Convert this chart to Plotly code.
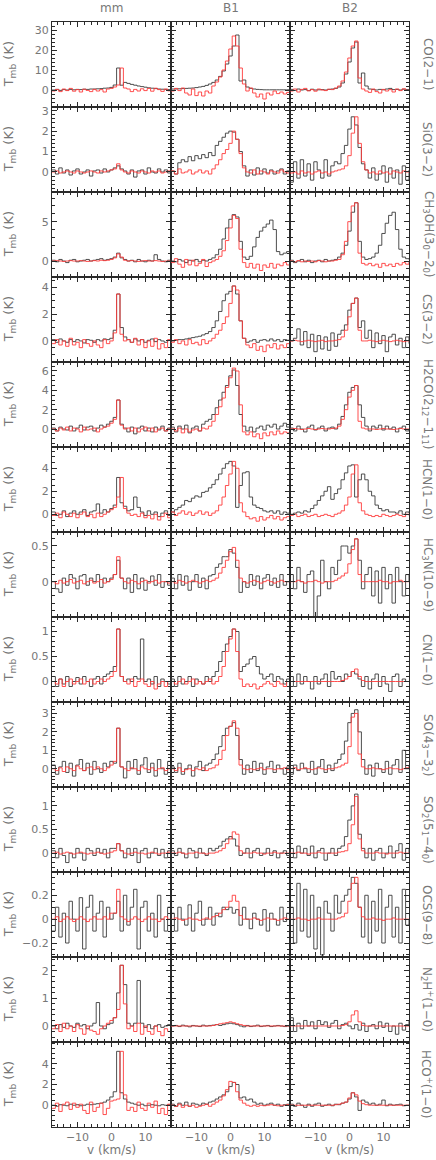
import plotly.graph_objects as go
from plotly.subplots import make_subplots

# channel left edges (km/s), 1 km/s channels
VEL = [-17.5, -16.5, -15.5, -14.5, -13.5, -12.5, -11.5, -10.5, -9.5, -8.5, -7.5, -6.5,
       -5.5, -4.5, -3.5, -2.5, -1.5, -0.5, 0.5, 1.5, 2.5, 3.5, 4.5, 5.5,
       6.5, 7.5, 8.5, 9.5, 10.5, 11.5, 12.5, 13.5, 14.5, 15.5, 16.5, 17.5]

COLUMNS = ["mm", "B1", "B2"]

# ---- CO(2-1)
CO_MM_K = [0.0, 0.3, -0.2, 0.2, 0.0, 0.3, 0.1, 0.3, 0.2, 0.4, 0.3, 0.5,
           0.5, 0.6, 0.7, 0.9, 1.0, 1.3, 2.5, 11.0, 2.4, 3.8, 3.3, 2.8,
           2.4, 2.0, 1.7, 1.4, 1.1, 0.9, 0.7, 0.5, 0.4, 0.3, 0.2, 0.2]
CO_MM_R = [-0.5, 0.3, -0.8, 0.5, -0.3, 0.8, -0.6, 0.2, -1.0, 0.4, -0.2, -0.8,
           0.3, -0.5, 0.2, -1.0, 0.5, 0.8, 1.5, 2.5, 11.0, 1.0, 0.5, -0.8,
           0.3, -0.5, 0.6, -0.3, 0.8, -0.6, 0.9, 0.2, -0.7, 0.5, -0.4, 0.1]
CO_B1_K = [0.5, 0.5, 0.6, 0.7, 0.8, 0.9, 1.0, 1.2, 1.5, 1.8, 2.3, 3.0,
           3.8, 5.0, 6.8, 9.5, 13.0, 17.0, 22.0, 27.5, 4.5, 5.0, 1.5, 0.8,
           0.5, 0.3, 0.2, 0.1, 0.1, 0.1, 0.1, 0.1, 0.1, 0.1, 0.1, 0.1]
CO_B1_R = [-0.5, 0.8, -0.3, 1.0, -1.5, -2.5, 0.5, -2.8, -1.0, -3.0, -0.5, -1.5,
           2.0, 4.0, 6.5, 10.0, 14.5, 20.5, 27.0, 22.0, 11.0, 3.0, -0.5, 1.0,
           -1.5, -3.5, -2.0, -4.5, -1.5, -2.5, -0.5, -1.8, -1.0, -2.0, -1.2, -1.0]
CO_B2_K = [0.3, -0.2, 0.5, 0.0, 0.2, -0.3, 0.4, 0.0, 0.1, 0.2, 0.0, 0.3,
           0.5, 0.8, 1.5, 3.5, 8.0, 14.0, 21.0, 24.0, 3.5, 8.5, 2.0, 0.5,
           0.2, 0.0, 0.3, 0.1, 0.5, 0.8, 0.2, 0.3, 0.0, 0.4, 0.2, 0.0]
CO_B2_R = [-0.5, 0.5, -1.0, 0.3, 0.8, -0.4, 0.2, -0.6, 0.5, 0.0, -0.3, 0.4,
           0.2, 1.0, 2.0, 4.5, 9.0, 16.0, 22.0, 24.5, 6.0, 0.5, -0.5, -1.2,
           0.5, -0.8, -1.5, 0.3, -0.5, 0.2, -1.0, 0.5, -0.3, 0.6, -0.2, 0.3]

# ---- SiO(3-2)
SIO_MM_K = [0.1, -0.1, 0.2, -0.05, 0.1, -0.15, 0.05, 0.15, -0.1, 0.0, 0.1, -0.2,
            0.05, 0.1, -0.05, 0.15, 0.0, 0.1, 0.2, 0.3, 0.15, 0.05, -0.1, 0.1,
            -0.25, 0.05, 0.1, -0.1, 0.2, 0.0, -0.05, 0.15, 0.0, 0.1, -0.05, 0.05]
SIO_MM_R = [0.0, 0.05, -0.05, 0.0, 0.05, 0.0, -0.05, 0.05, 0.0, -0.05, 0.0, 0.05,
            0.0, -0.05, 0.05, 0.0, 0.05, 0.1, 0.15, 0.4, 0.1, 0.0, -0.05, 0.05,
            0.0, -0.05, 0.05, 0.0, -0.05, 0.05, 0.0, 0.05, -0.05, 0.0, 0.05, 0.0]
SIO_B1_K = [0.05, -0.1, 0.45, 0.6, 0.5, 0.75, 0.55, 0.8, 0.65, 0.85, 0.7, 0.95,
            0.8, 1.3, 1.5, 1.7, 1.9, 2.0, 1.95, 1.6, 1.0, 0.3, -0.2, 0.1,
            -0.15, 0.2, -0.1, 0.15, -0.05, 0.1, -0.1, 0.05, 0.15, -0.1, 0.05, 0.0]
SIO_B1_R = [0.05, -0.1, 0.15, -0.05, 0.0, 0.1, -0.1, 0.0, 0.1, -0.05, 0.05, -0.1,
            0.15, 0.35, 0.6, 0.9, 1.1, 1.4, 2.0, 1.6, 0.9, 0.2, 0.0, -0.05,
            0.1, -0.1, 0.05, 0.0, -0.1, 0.05, 0.0, -0.05, 0.1, 0.0, -0.05, 0.0]
SIO_B2_K = [-0.5, 0.5, -0.3, 0.6, -0.2, 0.4, -0.4, 0.5, 0.1, -0.3, 0.6, -0.2,
            0.3, 0.5, 0.4, 0.9, 1.3, 2.1, 2.7, 2.3, 1.2, 0.4, 0.1, -0.3,
            0.2, -0.4, -0.1, 0.3, -0.5, 0.2, -0.3, 0.1, -0.6, 0.3, -0.4, 0.1]
SIO_B2_R = [-0.05, 0.0, -0.1, 0.05, -0.05, 0.0, -0.1, 0.0, 0.05, -0.05, 0.0, -0.1,
            0.0, 0.05, 0.1, 0.15, 0.3, 0.8, 1.9, 2.7, 1.4, 0.5, 0.1, -0.05,
            0.0, -0.1, 0.05, -0.05, 0.0, -0.1, 0.05, 0.0, -0.05, 0.05, 0.0, 0.0]

# ---- CH3OH(3_0-2_0)
CH3OH_MM_K = [0.1, -0.1, 0.2, 0.0, -0.2, 0.1, 0.2, -0.1, 0.0, 0.1, 0.2, 0.0,
              0.1, 0.2, 0.3, 0.1, 0.2, 0.3, 0.5, 1.0, 0.4, 0.2, 0.0, 0.1,
              -0.1, 0.2, 0.0, -0.1, 0.1, 0.0, 0.8, 0.2, 0.0, -0.1, 0.1, 0.0]
CH3OH_MM_R = [0.0, 0.05, 0.0, -0.05, 0.0, 0.05, 0.0, 0.0, 0.05, 0.0, -0.05, 0.0,
              0.05, 0.0, 0.1, 0.05, 0.1, 0.2, 0.4, 0.9, 0.5, 0.1, 0.0, 0.05,
              0.0, -0.05, 0.0, 0.05, 0.0, 0.0, 0.05, 0.0, -0.05, 0.0, 0.0, 0.0]
CH3OH_B1_K = [0.0, -0.1, 0.2, 0.0, -0.2, 0.1, 0.0, 0.2, -0.1, 0.1, 0.0, 0.2,
              0.4, 0.8, 1.5, 2.8, 4.2, 5.3, 5.9, 5.6, 2.5, 0.5, 0.2, 0.6,
              1.8, 3.0, 3.8, 4.3, 4.7, 5.2, 4.0, 1.2, 0.8, 1.0, 1.2, 1.2]
CH3OH_B1_R = [-0.2, 0.3, -0.4, -0.8, 0.2, -0.5, 0.1, -0.6, -0.3, 0.2, -0.7, -0.2,
              0.0, 0.2, 0.6, 1.3, 2.6, 4.2, 5.8, 5.4, 1.5, -0.2, -0.8, -0.3,
              -0.9, -0.4, -1.2, -0.5, -0.8, -0.3, -0.9, -0.4, -0.6, -0.2, -0.5, -0.3]
CH3OH_B2_K = [0.1, -0.2, 0.0, 0.2, -0.1, 0.1, -0.2, 0.0, 0.1, -0.1, 0.2, 0.0,
              0.1, 0.2, 0.5, 1.0, 2.0, 3.8, 6.2, 7.4, 2.5, 0.5, 0.2, 0.3,
              0.5, 1.0, 2.0, 3.5, 4.8, 5.8, 6.2, 4.0, 1.5, 0.5, 0.3, 0.2]
CH3OH_B2_R = [0.0, -0.1, 0.05, -0.1, 0.0, -0.05, 0.0, -0.1, 0.05, 0.0, -0.1, 0.0,
              0.0, 0.1, 0.2, 0.8, 2.5, 5.0, 7.0, 7.4, 1.0, -0.3, -0.5, -0.3,
              -0.6, -0.4, -0.8, -0.3, -0.6, -0.4, -0.7, -0.3, -0.5, -0.2, -0.4, -0.1]

# ---- CS(3-2)
CS_MM_K = [0.1, -0.1, 0.15, 0.0, -0.1, 0.1, -0.05, 0.1, 0.0, -0.15, 0.1, 0.05,
           -0.1, 0.1, 0.0, 0.15, 0.1, 0.2, 0.8, 3.5, 1.0, 0.3, 0.1, -0.1,
           0.15, 0.0, 0.1, -0.1, 0.05, 0.15, -0.05, 0.1, 0.0, -0.1, 0.05, 0.0]
CS_MM_R = [-0.2, 0.1, -0.3, 0.0, -0.4, 0.2, -0.3, -0.1, -0.5, 0.1, -0.2, -0.4,
           0.0, -0.3, -0.5, 0.1, -0.2, 0.0, 0.6, 3.5, 0.5, 0.0, 0.1, -0.1,
           0.2, -0.3, 0.1, -0.5, 0.0, -0.4, 0.2, -0.6, -0.2, -0.5, 0.1, -0.3]
CS_B1_K = [0.0, 0.05, 0.1, 0.1, 0.15, 0.2, 0.25, 0.3, 0.35, 0.45, 0.55, 0.7,
           1.0, 1.5, 2.2, 3.0, 3.5, 3.7, 4.1, 3.5, 1.5, 0.2, -0.1, 0.0,
           0.1, -0.1, 0.05, 0.1, 0.0, 0.15, 0.0, 0.1, -0.05, 0.1, 0.05, 0.0]
CS_B1_R = [-0.1, 0.1, -0.2, 0.0, -0.3, 0.1, -0.2, -0.1, -0.3, 0.1, -0.2, 0.0,
           0.2, 0.5, 0.8, 1.3, 1.8, 2.8, 4.1, 3.8, 1.5, 0.2, -0.3, -0.5,
           -0.2, -0.7, -0.4, -0.8, -0.3, -0.5, -0.2, -0.6, -0.3, -0.5, -0.2, -0.4]
CS_B2_K = [0.0, 0.2, 0.9, -0.3, 0.7, -0.5, 0.5, -0.8, 0.4, -0.6, 0.3, -0.7,
           0.6, -0.4, 0.5, 0.8, 1.2, 2.3, 2.8, 3.2, 1.0, 1.5, 0.2, 0.8,
           -0.5, 0.6, -0.2, 0.4, -0.8, 0.3, 0.5, -0.3, 0.2, -0.5, 0.3, -0.2]
CS_B2_R = [0.0, 0.05, 0.0, -0.05, 0.0, 0.05, 0.0, -0.05, 0.0, 0.05, -0.05, 0.0,
           0.0, 0.05, 0.1, 0.3, 0.8, 1.8, 2.8, 3.2, 0.8, 0.0, 0.0, 0.05,
           0.0, -0.05, 0.0, 0.05, 0.0, -0.05, 0.0, 0.05, 0.0, -0.05, 0.0, 0.0]

# ---- H2CO(2_12-1_11)
H2CO_MM_K = [0.1, -0.2, 0.2, 0.0, -0.1, 0.3, -0.2, 0.1, 0.4, -0.1, 0.2, 0.3,
             -0.2, 0.1, 0.4, 0.2, 0.5, 0.8, 1.2, 3.0, 0.5, 0.1, -0.3, 0.2,
             -0.5, 0.1, 0.3, -0.2, 0.1, -0.3, 0.2, -0.1, 0.3, -0.2, 0.1, 0.0]
H2CO_MM_R = [0.0, -0.2, 0.1, -0.1, 0.2, -0.2, 0.1, 0.0, -0.3, 0.2, -0.1, 0.0,
             0.1, -0.3, 0.0, 0.2, 0.3, 0.6, 1.0, 3.0, 0.4, 0.0, 0.1, -0.2,
             0.1, -0.3, 0.0, 0.2, -0.2, 0.1, -0.3, 0.0, 0.1, -0.2, 0.0, 0.0]
H2CO_B1_K = [0.2, -0.3, 0.3, 0.0, 0.4, -0.4, 0.1, 0.3, -0.2, 0.5, 0.8, 1.0,
             1.5, 2.2, 3.0, 3.8, 4.5, 5.5, 6.1, 4.5, 1.5, 0.3, -0.2, 0.2,
             -0.3, 0.1, 0.3, -0.1, 0.4, 0.2, 0.5, 0.0, 0.3, 0.6, 0.2, 0.1]
H2CO_B1_R = [0.0, -0.2, 0.1, -0.4, 0.0, -0.3, -0.1, 0.0, -0.2, 0.1, 0.0, 0.3,
             0.8, 1.5, 2.3, 3.2, 4.3, 5.3, 6.3, 6.0, 2.5, -0.3, -0.6, -0.3,
             -0.8, -0.5, -1.0, -0.4, -0.7, -0.3, -0.6, -0.2, -0.5, -0.3, -0.4, -0.2]
H2CO_B2_K = [0.1, -0.2, 0.3, 0.0, -0.3, 0.2, 0.4, -0.1, 0.1, 0.3, -0.2, 0.1,
             0.2, 0.0, 0.5, 1.3, 2.5, 3.8, 4.3, 4.5, 2.5, 1.2, 0.3, -0.2,
             0.3, 0.1, 0.4, -0.1, 0.3, 0.0, 0.2, -0.3, 0.1, 0.3, -0.2, -0.1]
H2CO_B2_R = [0.0, 0.05, 0.0, -0.05, 0.0, 0.05, 0.0, -0.05, 0.0, 0.05, 0.0, 0.0,
             0.05, 0.1, 0.3, 1.0, 2.0, 3.3, 4.0, 4.5, 0.8, 0.1, 0.0, 0.0,
             0.0, -0.05, 0.0, 0.05, 0.0, 0.0, -0.05, 0.0, 0.05, 0.0, 0.0, 0.0]

# ---- HCN(1-0)
HCN_MM_K = [0.2, -0.1, 0.0, 0.3, -0.2, 0.1, 0.3, 0.0, 0.2, 0.4, -0.1, 0.2,
            0.3, 0.9, 0.1, 0.4, 0.2, 0.5, 0.8, 3.2, 1.0, 0.7, 0.3, 0.4,
            1.5, 0.6, 0.2, -0.1, 0.3, 0.0, 0.2, -0.2, 0.1, 0.3, -0.1, 0.2]
HCN_MM_R = [-0.1, 0.1, -0.3, 0.2, 0.0, -0.2, 0.1, -0.3, 0.0, 0.2, -0.2, 0.0,
            -0.3, 0.1, -0.2, 0.0, 0.2, 0.4, 0.6, 1.5, 3.2, 0.5, 0.1, -0.1,
            0.0, -0.2, 0.1, -0.3, -0.1, -0.4, 0.0, -0.5, -0.2, 0.1, -0.3, 0.0]
HCN_B1_K = [0.2, 0.4, 0.6, 0.8, 1.2, 1.1, 1.4, 1.6, 1.5, 1.9, 2.0, 2.3,
            2.6, 3.0, 3.5, 4.0, 4.4, 4.6, 4.2, 0.6, 2.5, 3.6, 3.7, 1.5,
            0.8, 0.6, 0.5, 0.3, 0.2, 0.3, 0.1, 0.3, 0.0, 0.2, 0.1, 0.1]
HCN_B1_R = [0.2, -0.1, 0.1, 0.3, 0.0, 0.2, -0.1, 0.1, 0.3, 0.0, 0.2, -0.1,
            0.1, 0.3, 0.8, 1.5, 2.5, 3.5, 4.6, 4.0, 1.0, 0.2, -0.2, -0.4,
            -0.3, -0.6, -0.2, -0.5, -0.3, -0.1, -0.4, -0.2, -0.5, -0.3, -0.2, -0.1]
HCN_B2_K = [0.0, 0.1, 0.2, 0.1, 0.3, 0.2, 0.5, 0.8, 1.2, 1.6, 2.0, 2.4,
            1.3, 1.8, 2.2, 3.0, 3.6, 4.2, 4.3, 1.5, 3.0, 3.5, 3.0, 2.0,
            1.6, 0.8, 0.5, 0.3, 0.4, 0.2, 0.2, 0.1, 0.3, 0.0, 0.2, 0.1]
HCN_B2_R = [-0.1, 0.0, -0.2, -0.1, 0.0, -0.2, -0.1, 0.0, -0.2, -0.1, 0.0, -0.1,
            -0.2, 0.0, 0.1, 0.3, 0.8, 1.5, 3.5, 4.3, 1.0, 0.3, 0.0, -0.1,
            -0.2, -0.1, -0.2, 0.0, -0.1, -0.2, -0.1, 0.0, -0.1, -0.2, 0.0, -0.1]

# ---- HC3N(10-9)
HC3N_MM_K = [0.0, -0.1, -0.15, 0.05, -0.05, 0.1, 0.05, -0.1, 0.08, 0.1, -0.05, 0.05,
             0.0, 0.1, -0.08, 0.05, 0.0, 0.05, 0.1, 0.3, 0.05, -0.1, 0.05, -0.15,
             0.1, -0.1, 0.05, -0.12, 0.0, 0.08, -0.05, 0.1, -0.08, 0.0, -0.05, 0.05]
HC3N_MM_R = [0.0, -0.03, 0.02, -0.02, 0.0, 0.03, -0.02, 0.0, 0.02, -0.03, 0.0, 0.02,
             -0.02, 0.0, 0.03, -0.02, 0.0, 0.03, 0.1, 0.35, 0.05, 0.0, -0.02, 0.02,
             0.0, -0.03, 0.0, 0.02, -0.02, 0.0, 0.02, -0.02, 0.0, 0.0, -0.02, 0.0]
HC3N_B1_K = [0.05, -0.1, 0.1, -0.05, 0.08, -0.12, 0.0, 0.1, -0.08, 0.05, -0.1, 0.08,
             0.1, 0.2, 0.25, 0.35, 0.35, 0.45, 0.4, 0.2, -0.15, 0.0, -0.08, 0.1,
             -0.05, 0.08, -0.1, 0.05, 0.1, -0.05, 0.05, -0.08, 0.1, -0.05, 0.0, 0.05]
HC3N_B1_R = [0.0, -0.02, 0.02, 0.0, -0.02, 0.0, 0.02, 0.0, -0.02, 0.0, 0.02, 0.0,
             0.02, 0.05, 0.12, 0.2, 0.3, 0.42, 0.48, 0.3, 0.05, 0.0, -0.02, 0.0,
             0.02, 0.0, -0.02, 0.0, 0.02, 0.0, -0.02, 0.0, 0.02, 0.0, 0.0, 0.0]
HC3N_B2_K = [0.1, -0.1, 0.2, 0.0, -0.15, 0.1, 0.15, -0.5, -0.2, 0.3, 0.0, -0.1,
             0.2, 0.1, 0.3, 0.5, 0.5, 0.4, 0.5, 0.6, 0.3, -0.1, 0.1, 0.2,
             -0.2, 0.15, -0.3, 0.2, -0.1, 0.1, -0.3, 0.2, 0.0, -0.2, 0.1, 0.0]
HC3N_B2_R = [0.0, 0.0, 0.02, 0.0, -0.02, 0.0, 0.0, 0.02, 0.0, -0.02, 0.0, 0.0,
             0.0, 0.02, 0.05, 0.08, 0.12, 0.25, 0.45, 0.6, 0.1, 0.0, 0.0, 0.0,
             0.0, 0.0, 0.02, 0.0, 0.0, -0.02, 0.0, 0.0, 0.02, 0.0, 0.0, 0.0]

# ---- CN(1-0)
CN_MM_K = [0.1, -0.1, 0.05, -0.05, 0.1, -0.1, 0.0, 0.08, -0.05, 0.1, 0.0, -0.1,
           0.05, 0.1, -0.05, 0.1, 0.15, 0.2, 0.3, 1.05, 0.1, 0.0, 0.05, 0.0,
           0.1, 0.05, 0.85, 0.0, 0.05, -0.05, 0.1, -0.1, 0.05, 0.0, -0.05, 0.05]
CN_MM_R = [0.0, -0.05, 0.05, -0.1, 0.0, 0.05, -0.05, 0.0, 0.05, -0.05, 0.0, 0.05,
           -0.05, 0.0, 0.05, 0.0, 0.05, 0.1, 0.2, 1.05, 0.1, 0.0, -0.05, 0.05,
           -0.1, 0.0, 0.05, -0.05, -0.1, 0.0, -0.15, -0.05, 0.0, -0.1, 0.0, -0.05]
CN_B1_K = [0.05, -0.1, 0.1, -0.05, 0.0, 0.1, -0.1, 0.05, 0.0, -0.05, 0.1, 0.0,
           0.1, 0.2, 0.4, 0.6, 0.75, 0.9, 1.05, 1.0, 0.2, 0.3, 0.35, 0.45,
           0.5, 0.3, 0.15, 0.05, 0.1, 0.15, 0.0, 0.1, 0.05, -0.05, 0.05, 0.0]
CN_B1_R = [0.0, -0.05, 0.0, 0.05, -0.05, 0.0, 0.05, -0.05, 0.0, -0.05, 0.0, 0.05,
           -0.05, 0.0, 0.1, 0.3, 0.6, 0.85, 1.05, 0.6, 0.05, -0.1, -0.05, -0.1,
           -0.05, -0.15, -0.1, -0.05, 0.0, -0.05, -0.1, 0.0, -0.05, -0.1, 0.0, -0.05]
CN_B2_K = [0.1, -0.1, 0.15, -0.05, 0.1, 0.0, -0.15, 0.1, -0.05, 0.05, 0.15, -0.1,
           0.2, 0.05, 0.1, 0.0, 0.15, 0.1, 0.2, 0.15, 0.05, -0.1, 0.1, -0.15,
           0.05, 0.15, -0.1, 0.1, -0.05, -0.2, 0.1, 0.15, -0.1, 0.05, 0.0, 0.0]
CN_B2_R = [0.0, 0.0, 0.0, 0.0, 0.0, 0.0, 0.0, 0.0, 0.0, 0.0, 0.0, 0.0,
           0.0, 0.0, 0.0, 0.02, 0.05, 0.1, 0.2, 0.25, 0.1, 0.02, 0.0, 0.0,
           0.0, 0.0, 0.0, 0.0, 0.0, 0.0, 0.0, 0.0, 0.0, 0.0, 0.0, 0.0]

# ---- SO(4_3-3_2)
SO_MM_K = [0.2, -0.3, 0.1, 0.4, -0.2, 0.3, -0.4, 0.2, 0.5, -0.1, 0.3, -0.3,
           0.4, 0.0, -0.2, 0.3, 0.1, 0.4, 0.3, 2.2, 0.1, -0.5, 0.4, 0.0,
           0.5, -0.3, 0.2, 0.6, -0.2, 0.3, -0.4, 0.5, 0.0, -0.3, 0.4, 0.1]
SO_MM_R = [0.0, -0.1, 0.05, -0.15, 0.1, 0.0, -0.1, 0.15, 0.0, -0.1, 0.05, 0.1,
           -0.05, 0.1, 0.0, -0.1, 0.05, 0.2, 0.4, 2.2, 0.1, 0.0, -0.1, 0.05,
           0.0, -0.1, 0.1, 0.0, -0.05, 0.05, -0.1, 0.0, 0.05, -0.1, 0.0, 0.0]
SO_B1_K = [0.1, -0.2, 0.3, -0.3, 0.0, 0.2, -0.4, 0.1, 0.4, -0.1, 0.2, 0.3,
           0.5, 0.8, 1.2, 1.8, 2.2, 2.3, 2.5, 1.8, 0.5, -0.3, 0.2, -0.2,
           0.4, -0.1, 0.3, -0.3, 0.1, 0.4, -0.2, 0.2, 0.0, -0.3, 0.1, 0.2]
SO_B1_R = [0.0, -0.1, 0.05, -0.15, -0.05, 0.0, -0.1, 0.0, -0.05, 0.05, -0.1, 0.0,
           0.05, 0.2, 0.5, 1.0, 1.8, 2.3, 2.6, 2.2, 0.2, 0.0, -0.05, 0.0,
           -0.05, 0.0, 0.05, -0.05, 0.0, 0.0, -0.05, 0.0, 0.0, 0.05, -0.05, 0.0]
SO_B2_K = [-0.3, 0.2, -0.1, 0.3, 0.0, -0.2, 0.4, -0.3, 0.1, 0.5, -0.2, 0.2,
           -0.1, 0.3, 0.5, 0.8, 1.5, 2.5, 3.0, 3.2, 2.0, 0.5, -0.3, 0.2,
           -0.4, 0.3, 0.0, -0.2, 0.4, -0.3, 0.2, 0.5, -0.2, 1.0, 0.0, 0.2]
SO_B2_R = [0.0, 0.05, -0.05, 0.0, 0.05, 0.0, -0.05, 0.0, 0.05, 0.0, -0.05, 0.0,
           0.0, 0.05, 0.1, 0.2, 0.3, 1.2, 2.8, 3.0, 0.8, 0.1, 0.0, 0.0,
           0.05, 0.0, 0.0, -0.05, 0.0, 0.05, 0.0, 0.0, -0.05, 0.0, 0.05, 0.0]

# ---- SO2(5_1-4_0)
SO2_MM_K = [0.05, -0.1, 0.1, -0.05, -0.2, 0.0, -0.1, 0.1, 0.0, -0.15, 0.1, 0.05,
            -0.05, 0.1, 0.0, 0.08, -0.1, 0.1, 0.1, 0.2, 0.05, -0.1, 0.1, -0.05,
            0.1, -0.2, 0.05, 0.1, -0.1, 0.0, 0.1, -0.05, 0.08, -0.1, 0.05, 0.0]
SO2_MM_R = [0.0, 0.02, -0.02, 0.0, 0.02, 0.0, -0.02, 0.0, 0.02, 0.0, -0.02, 0.0,
            0.0, 0.02, 0.0, -0.02, 0.0, 0.02, 0.05, 0.2, 0.05, 0.0, -0.02, 0.0,
            0.02, 0.0, 0.0, -0.02, 0.0, 0.02, 0.0, -0.02, 0.0, 0.0, 0.02, 0.0]
SO2_B1_K = [0.05, -0.05, 0.1, 0.0, -0.1, 0.1, 0.05, -0.1, 0.1, 0.0, -0.05, 0.1,
            0.05, 0.1, 0.15, 0.25, 0.3, 0.35, 0.3, 0.15, -0.05, 0.0, 0.1, -0.1,
            0.05, 0.1, -0.05, 0.0, 0.1, -0.05, 0.05, -0.1, 0.0, 0.05, -0.05, 0.0]
SO2_B1_R = [0.0, 0.0, 0.02, 0.0, -0.02, 0.0, 0.0, 0.02, 0.0, 0.0, -0.02, 0.0,
            0.0, 0.02, 0.05, 0.1, 0.2, 0.3, 0.45, 0.4, 0.05, 0.0, 0.0, 0.0,
            0.02, 0.0, 0.0, -0.02, 0.0, 0.0, 0.02, 0.0, 0.0, 0.0, 0.0, 0.0]
SO2_B2_K = [0.1, -0.1, 0.15, 0.0, 0.1, -0.05, 0.15, -0.1, 0.05, 0.1, -0.15, 0.0,
            0.1, -0.05, 0.1, 0.15, 0.35, 0.7, 1.0, 1.25, 0.4, 0.1, -0.1, 0.1,
            -0.15, 0.05, 0.1, -0.1, 0.0, 0.15, -0.1, 0.05, 0.2, -0.15, 0.1, 0.0]
SO2_B2_R = [0.0, 0.0, 0.02, 0.0, 0.0, -0.02, 0.0, 0.0, 0.02, 0.0, 0.0, 0.0,
            0.0, 0.0, 0.02, 0.03, 0.05, 0.2, 0.6, 1.2, 0.3, 0.05, 0.0, 0.0,
            0.0, 0.02, 0.0, 0.0, -0.02, 0.0, 0.0, 0.0, 0.02, 0.0, 0.0, 0.0]

# ---- OCS(9-8)
OCS_MM_K = [-0.1, 0.1, -0.15, 0.05, -0.2, 0.15, 0.0, -0.1, 0.18, -0.25, 0.1, 0.2,
            -0.1, 0.05, 0.15, -0.15, 0.1, 0.0, 0.05, 0.15, -0.1, 0.2, -0.05, 0.1,
            0.25, -0.25, 0.1, 0.15, -0.1, 0.05, -0.15, 0.2, 0.0, -0.1, 0.1, -0.05]
OCS_MM_R = [0.0, 0.02, -0.02, 0.0, 0.02, 0.0, -0.02, 0.0, 0.02, 0.0, -0.02, 0.0,
            0.02, 0.0, 0.0, 0.02, 0.0, 0.05, 0.05, 0.25, 0.02, 0.0, -0.02, 0.0,
            0.02, 0.0, -0.02, 0.0, 0.02, 0.0, 0.0, -0.02, 0.0, 0.02, 0.0, 0.0]
OCS_B1_K = [0.05, -0.1, 0.1, 0.0, -0.05, 0.12, -0.1, 0.05, 0.15, -0.05, 0.0, 0.1,
            -0.05, 0.05, 0.02, 0.1, 0.08, 0.1, 0.05, 0.08, -0.05, 0.1, 0.0, -0.08,
            0.05, 0.0, -0.05, 0.08, -0.1, 0.05, 0.0, -0.05, 0.1, -0.02, 0.05, 0.0]
OCS_B1_R = [0.0, 0.01, 0.0, -0.01, 0.0, 0.01, 0.0, 0.0, -0.01, 0.0, 0.01, 0.0,
            0.02, 0.03, 0.05, 0.08, 0.1, 0.15, 0.2, 0.15, 0.03, 0.0, 0.0, 0.0,
            0.01, 0.0, -0.01, 0.0, 0.01, 0.0, 0.0, -0.01, 0.0, 0.01, 0.0, 0.0]
OCS_B2_K = [0.1, -0.2, 0.3, -0.1, 0.25, -0.15, 0.2, -0.25, 0.1, -0.3, 0.15, 0.05,
            -0.1, 0.2, 0.05, 0.15, 0.2, 0.25, 0.35, 0.3, 0.1, -0.15, 0.2, -0.2,
            0.15, -0.1, 0.25, -0.2, 0.1, 0.2, -0.15, 0.1, -0.2, 0.25, -0.05, 0.0]
OCS_B2_R = [0.0, 0.0, 0.01, 0.0, 0.0, -0.01, 0.0, 0.0, 0.01, 0.0, 0.0, 0.0,
            0.0, 0.0, 0.01, 0.02, 0.05, 0.15, 0.3, 0.35, 0.1, 0.02, 0.0, 0.0,
            0.01, 0.0, 0.0, -0.01, 0.0, 0.0, 0.01, 0.0, 0.0, 0.0, 0.0, 0.0]

# ---- N2H+(1-0)
N2H_MM_K = [0.0, -0.1, 0.05, -0.05, 0.1, 0.0, -0.05, 0.1, 0.0, 0.05, -0.1, 0.0,
            0.1, 0.85, 0.0, -0.1, 0.05, 0.1, 0.3, 1.2, 2.2, 1.5, 0.1, 0.0,
            0.1, 1.65, 0.1, -0.05, 0.05, -0.1, 0.0, 0.05, -0.05, 0.0, 0.05, 0.0]
N2H_MM_R = [-0.1, 0.05, -0.2, 0.1, -0.1, 0.0, -0.2, 0.05, -0.1, -0.3, 0.0, -0.15,
            -0.2, -0.3, -0.1, 0.0, 0.1, 0.2, 0.3, 0.6, 2.2, 0.8, -0.1, 0.0,
            -0.2, 0.1, -0.3, 0.0, -0.2, -0.3, 0.0, -0.2, -0.35, -0.1, -0.2, 0.0]
N2H_B1_K = [0.0, 0.02, -0.02, 0.03, 0.0, -0.03, 0.02, 0.0, -0.02, 0.03, 0.0, 0.02,
            0.03, 0.05, 0.02, 0.05, 0.08, 0.1, 0.08, 0.05, 0.0, -0.03, 0.02, -0.02,
            0.0, 0.03, -0.02, 0.0, 0.02, -0.02, 0.0, 0.02, 0.0, -0.02, 0.0, 0.0]
N2H_B1_R = [0.0, 0.0, 0.0, 0.0, 0.0, 0.0, 0.0, 0.0, 0.0, 0.0, 0.0, 0.0,
            0.02, 0.05, 0.08, 0.1, 0.12, 0.15, 0.12, 0.08, 0.05, 0.02, 0.0, 0.0,
            0.0, 0.0, 0.0, 0.0, 0.0, 0.0, 0.0, 0.0, 0.0, 0.0, 0.0, 0.0]
N2H_B2_K = [0.3, -0.2, 0.1, -0.1, 0.2, 0.0, 0.15, -0.1, 0.2, 0.05, 0.15, -0.05,
            0.1, 0.2, -0.1, 0.05, 0.1, 0.0, -0.1, 0.05, -0.15, 0.1, -0.2, 0.0,
            0.05, -0.1, 0.15, -0.05, 0.1, -0.2, 0.0, -0.3, 0.1, -0.15, 0.05, 0.2]
N2H_B2_R = [0.0, 0.0, 0.0, 0.0, 0.0, 0.0, 0.0, 0.0, 0.0, 0.0, 0.0, 0.0,
            0.0, 0.0, 0.0, 0.02, 0.05, 0.15, 0.4, 0.55, 0.15, 0.02, 0.0, 0.0,
            0.0, 0.0, 0.0, 0.0, 0.0, 0.0, 0.0, 0.0, 0.0, 0.0, 0.0, 0.0]

# ---- HCO+(1-0)
HCO_MM_K = [0.0, -0.1, 0.05, 0.0, -0.05, 0.1, 0.0, 0.05, -0.05, 0.0, 0.1, 0.05,
            0.1, 0.15, 0.2, 0.3, 0.5, 0.8, 1.3, 5.2, 1.2, 0.6, 0.3, 0.2,
            0.1, 0.0, 0.1, -0.05, 0.0, 0.05, 0.0, -0.05, 0.05, 0.0, 0.05, 0.0]
HCO_MM_R = [-0.3, 0.2, -0.6, 0.1, 0.3, -0.4, 0.2, -0.2, 0.1, -0.5, -0.8, 0.3,
            -0.6, -0.2, 0.2, -0.9, -0.3, 0.4, 0.5, 0.6, 5.2, 1.0, -0.5, -0.2,
            -0.6, 0.3, -0.3, -0.5, 0.2, -0.2, 0.4, -0.8, -0.3, -0.9, 0.1, -0.2]
HCO_B1_K = [0.1, -0.1, 0.2, 0.0, 0.3, -0.1, 0.2, 0.1, 0.0, 0.2, 0.1, 0.3,
            0.4, 0.6, 0.8, 1.0, 1.3, 1.8, 2.2, 2.0, 0.7, 0.8, 0.5, 0.6,
            0.3, 0.1, 0.2, 0.0, 0.1, 0.2, 0.0, 0.1, -0.1, 0.05, 0.1, 0.0]
HCO_B1_R = [0.0, -0.1, 0.1, -0.2, 0.0, -0.1, 0.0, -0.2, -0.1, 0.0, 0.1, -0.1,
            0.1, 0.3, 0.5, 0.9, 1.5, 2.3, 2.2, 1.3, 0.5, 0.2, 0.0, -0.1,
            0.0, -0.1, 0.0, -0.05, 0.0, 0.05, 0.0, -0.05, 0.0, 0.0, 0.05, 0.0]
HCO_B2_K = [0.1, -0.1, 0.2, 0.0, -0.2, 0.1, -0.1, 0.1, 0.2, -0.1, 0.0, 0.1,
            -0.05, 0.1, 0.05, 0.2, 0.3, 0.6, 1.2, 0.8, -0.5, 0.5, 0.3, 0.1,
            0.2, 0.0, 0.1, 0.5, -0.05, 0.1, 0.0, 0.05, 0.1, -0.05, 0.0, 0.0]
HCO_B2_R = [0.0, 0.0, 0.0, 0.0, 0.0, 0.0, 0.0, 0.0, 0.0, 0.0, 0.0, 0.0,
            0.0, 0.05, 0.1, 0.2, 0.3, 0.7, 1.2, 1.0, 0.4, 0.15, 0.05, 0.0,
            0.0, 0.0, 0.0, 0.0, 0.0, 0.0, 0.0, 0.0, 0.0, 0.0, 0.0, 0.0]

LINE_NAMES = [
    "CO(2−1)", "SiO(3−2)", "CH<sub>3</sub>OH(3<sub>0</sub>−2<sub>0</sub>)", "CS(3−2)",
    "H2CO(2<sub>12</sub>−1<sub>11</sub>)", "HCN(1−0)", "HC<sub>3</sub>N(10−9)", "CN(1−0)",
    "SO(4<sub>3</sub>−3<sub>2</sub>)", "SO<sub>2</sub>(5<sub>1</sub>−4<sub>0</sub>)", "OCS(9−8)",
    "N<sub>2</sub>H<sup>+</sup>(1−0)", "HCO<sup>+</sup>(1−0)",
]
Y_RANGES = [(-8.5, 34), (-0.98, 3.18), (-2.03, 8.77), (-1.57, 4.77), (-1.86, 6.93),
            (-1.54, 5.85), (-0.495, 0.696), (-0.41, 1.29), (-0.99, 3.62), (-0.4, 1.4),
            (-0.317, 0.395), (-0.58, 2.5), (-2.1, 6.1)]
Y_TICKS = [[0, 10, 20, 30], [0, 1, 2, 3], [0, 5], [0, 2, 4], [0, 2, 4, 6], [0, 2, 4],
           [0, 0.5], [0, 0.5, 1], [0, 1, 2, 3], [0, 0.5, 1], [-0.2, 0, 0.2], [0, 1, 2],
           [0, 2, 4]]
Y_MINOR = [2, 0.2, 1, 0.5, 0.5, 0.5, 0.1, 0.1, 0.2, 0.1, 0.05, 0.2, 0.5]
X_TICKS = [-10, 0, 10]

SPECTRA = [
    [CO_MM_K, CO_MM_R, CO_B1_K, CO_B1_R, CO_B2_K, CO_B2_R],
    [SIO_MM_K, SIO_MM_R, SIO_B1_K, SIO_B1_R, SIO_B2_K, SIO_B2_R],
    [CH3OH_MM_K, CH3OH_MM_R, CH3OH_B1_K, CH3OH_B1_R, CH3OH_B2_K, CH3OH_B2_R],
    [CS_MM_K, CS_MM_R, CS_B1_K, CS_B1_R, CS_B2_K, CS_B2_R],
    [H2CO_MM_K, H2CO_MM_R, H2CO_B1_K, H2CO_B1_R, H2CO_B2_K, H2CO_B2_R],
    [HCN_MM_K, HCN_MM_R, HCN_B1_K, HCN_B1_R, HCN_B2_K, HCN_B2_R],
    [HC3N_MM_K, HC3N_MM_R, HC3N_B1_K, HC3N_B1_R, HC3N_B2_K, HC3N_B2_R],
    [CN_MM_K, CN_MM_R, CN_B1_K, CN_B1_R, CN_B2_K, CN_B2_R],
    [SO_MM_K, SO_MM_R, SO_B1_K, SO_B1_R, SO_B2_K, SO_B2_R],
    [SO2_MM_K, SO2_MM_R, SO2_B1_K, SO2_B1_R, SO2_B2_K, SO2_B2_R],
    [OCS_MM_K, OCS_MM_R, OCS_B1_K, OCS_B1_R, OCS_B2_K, OCS_B2_R],
    [N2H_MM_K, N2H_MM_R, N2H_B1_K, N2H_B1_R, N2H_B2_K, N2H_B2_R],
    [HCO_MM_K, HCO_MM_R, HCO_B1_K, HCO_B1_R, HCO_B2_K, HCO_B2_R],
]

BLACK = "#3a3a3a"
FRAME = "#2a2a2a"
RED = "#ff3b3b"
TEXT = "#777777"
FONT = "DejaVu Sans"

nrows = len(SPECTRA)
fig = make_subplots(rows=nrows, cols=3, horizontal_spacing=0, vertical_spacing=0)

for r, row in enumerate(SPECTRA, start=1):
    for c in range(3):
        k, red = row[2 * c], row[2 * c + 1]
        fig.add_trace(go.Scatter(x=VEL, y=k, mode="lines", line_shape="hv",
                                 line=dict(color=BLACK, width=0.9), showlegend=False),
                      row=r, col=c + 1)
        fig.add_trace(go.Scatter(x=VEL, y=red, mode="lines", line_shape="hv",
                                 line=dict(color=RED, width=0.9), showlegend=False),
                      row=r, col=c + 1)

axis_style = dict(showline=True, linecolor=FRAME, linewidth=1, mirror="allticks",
                  ticks="inside", ticklen=5, tickcolor=FRAME, tickwidth=1,
                  showgrid=False, zeroline=False,
                  tickfont=dict(family=FONT, size=11, color=TEXT))

fig.update_xaxes(range=[-17.5, 17.5], tickmode="array", tickvals=X_TICKS,
                 showticklabels=False,
                 minor=dict(ticks="inside", ticklen=3, tickcolor=FRAME, dtick=2, tick0=0),
                 **axis_style)
fig.update_xaxes(showticklabels=True, row=nrows)

for r in range(1, nrows + 1):
    fig.update_yaxes(range=list(Y_RANGES[r - 1]), tickmode="array",
                     tickvals=Y_TICKS[r - 1], showticklabels=False,
                     minor=dict(ticks="inside", ticklen=3, tickcolor=FRAME,
                                dtick=Y_MINOR[r - 1], tick0=0),
                     row=r, **axis_style)
    fig.update_yaxes(showticklabels=True, row=r, col=1)

annotations = []
col_centers = [1 / 6, 1 / 2, 5 / 6]
for name, xc in zip(COLUMNS, col_centers):
    annotations.append(dict(text=name, x=xc, y=1.0127, xref="paper", yref="paper",
                            showarrow=False, xanchor="center", yanchor="middle",
                            font=dict(family=FONT, size=12, color=TEXT)))
    annotations.append(dict(text="v (km/s)", x=xc, y=-0.0208, xref="paper", yref="paper",
                            showarrow=False, xanchor="center", yanchor="middle",
                            font=dict(family=FONT, size=12, color=TEXT)))

row_h = 1 / nrows
for i, name in enumerate(LINE_NAMES):
    yc = 1 - (i + 0.5) * row_h
    annotations.append(dict(text=name, x=1.052, y=yc, xref="paper", yref="paper",
                            showarrow=False, textangle=90, xanchor="center",
                            yanchor="middle", font=dict(family=FONT, size=12, color=TEXT)))
    annotations.append(dict(text="T<sub>mb</sub> (K)", x=-0.118, y=yc, xref="paper",
                            yref="paper", showarrow=False, textangle=-90,
                            xanchor="center", yanchor="middle",
                            font=dict(family=FONT, size=13, color=TEXT)))

fig.update_layout(width=436, height=1160, margin=dict(l=52, r=27, t=22, b=33),
                  plot_bgcolor="white", paper_bgcolor="white",
                  annotations=annotations, showlegend=False)

fig.write_html("out.html", config={"displayModeBar": False},
               post_script="document.body.style.margin='0';"
                           "document.body.style.overflow='hidden';")
